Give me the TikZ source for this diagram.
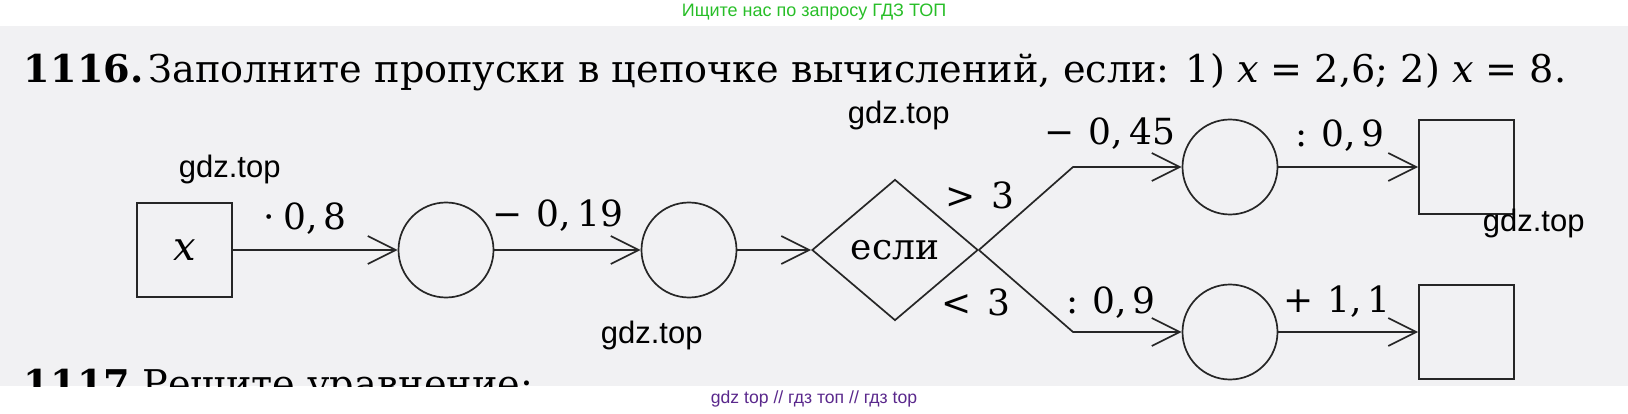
\documentclass[tikz,border=0pt]{standalone}
\usepackage{fontspec}
\setmainfont{DejaVu Serif}
\newfontfamily\wmfont{Liberation Sans}
\usetikzlibrary{arrows.meta,shapes.geometric}
\tikzset{>={Straight Barb[length=28pt,width=28pt]}}
\definecolor{page}{RGB}{241,241,243}
\definecolor{adgreen}{RGB}{40,190,40}
\definecolor{adpurple}{RGB}{90,40,140}

\begin{document}
\begin{tikzpicture}[x=1pt, y=-1pt, line width=1.7pt,
    cell/.style={draw=black!85, minimum width=95pt, minimum height=94pt, inner sep=0pt},
    blank/.style={draw=black!85, circle, minimum size=95pt, inner sep=0pt},
    test/.style={draw=black!85, diamond, minimum width=166pt, minimum height=141pt, inner sep=0pt},
    link/.style={->, draw=black!85},
    op/.style={anchor=base, inner sep=0pt, font=\fontsize{36}{40}\selectfont},
    wm/.style={anchor=base west, inner sep=0pt, font=\wmfont\fontsize{31}{34}\selectfont}]

  \newcommand\Ym{250}
  \newcommand\Yu{167}
  \newcommand\Yd{332}

  \useasboundingbox (0,0) rectangle (1628,414);
  \fill[page] (0,26) rectangle (1628,386);

  %% task text
  \node[anchor=base west, inner sep=0pt, font=\fontsize{38.2}{42}\selectfont] (task) at (23,83)
    {\textbf{1116.}\hspace{5pt}Заполните пропуски в цепочке вычислений, если: 1)~\textit{x}~=~2,6; 2)~\textit{x}~=~8.};
  \begin{scope}
    \clip (0,26) rectangle (1628,386);
    \node[anchor=base west, inner sep=0pt, font=\fontsize{38.2}{42}\selectfont] (next) at (23,397)
      {\textbf{1117} Решите уравнение:};
  \end{scope}

  %% chain
  \node[cell, font=\fontsize{40}{44}\selectfont\itshape] (xin) at (184.5,\Ym) {x};
  \node[blank] (c1) at (446,\Ym) {};
  \node[blank] (c2) at (689,\Ym) {};
  \node[test, font=\fontsize{36}{40}\selectfont] (if) at (895,\Ym) {если};
  \node[blank] (c3) at (1230,\Yu) {};
  \node[blank] (c4) at (1230,\Yd) {};
  \node[cell] (r1) at (1466.5,\Yu) {};
  \node[cell] (r2) at (1466.5,\Yd) {};
  \coordinate (bu) at (1073,\Yu);
  \coordinate (bd) at (1073,\Yd);

  \draw[link] (xin) -- (c1);
  \draw[link] (c1) -- (c2);
  \draw[link] (c2) -- (if);
  \draw[link] (if.east) -- (bu) -- (c3); % > 3
  \draw[link] (if.east) -- (bd) -- (c4); % < 3
  \draw[link] (c3) -- (r1);
  \draw[link] (c4) -- (r2);

  %% operations
  \node[op] (m08) at (305,230) {·\hspace{9pt}0,\,8};
  \node[op] (s019) at (558,227) {−\hspace{14pt}0,\,19};
  \node[op] (gt3) at (980,209) {>\hspace{16pt}3};
  \node[op] (lt3) at (976,315) {<\hspace{16pt}3};
  \node[op] (s045) at (1110,145) {−\hspace{14pt}0,\,45};
  \node[op] (d09u) at (1340,147) {:\hspace{14pt}0,\,9};
  \node[op] (d09d) at (1111,313) {:\hspace{14pt}0,\,9};
  \node[op] (a11) at (1337,312) {+\hspace{14pt}1,\,1};

  %% watermarks
  \node[wm] (g1) at (847,124) {gdz.top};
  \node[wm] (g2) at (178,178) {gdz.top};
  \node[wm] (g3) at (1482,232) {gdz.top};
  \node[wm] (g4) at (600,343) {gdz.top};
  \node[font=\wmfont\fontsize{18}{20}\selectfont, text=adgreen] (ad1) at (814,12) {Ищите нас по запросу ГДЗ ТОП};
  \node[font=\wmfont\fontsize{17.6}{20}\selectfont, text=adpurple] (ad2) at (814,399) {gdz top // гдз топ // гдз top};

\end{tikzpicture}
\end{document}
